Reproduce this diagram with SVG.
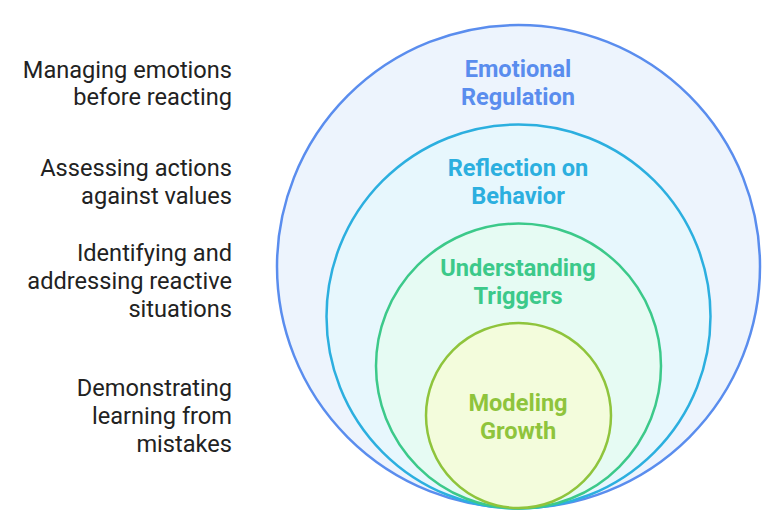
<svg xmlns="http://www.w3.org/2000/svg" width="770" height="517" viewBox="0 0 770 517">
<style>
.l{font-family:Roboto,"Liberation Sans",sans-serif;font-size:23.6px;fill:#222;text-anchor:end}
.c{font-family:Roboto,"Liberation Sans",sans-serif;font-size:23.6px;font-weight:bold;text-anchor:middle}
circle{stroke-width:2.5}
</style>
<rect width="770" height="517" fill="#fff"/>
<g id="emotional-regulation">
<circle cx="518.5" cy="266.5" r="241.5" fill="#edf4fd" stroke="#5a8dee"/>
<text class="c" fill="#5a8dee"><tspan x="518" y="77">Emotional</tspan><tspan x="518" y="105">Regulation</tspan></text>
</g>
<g id="reflection">
<circle cx="518.5" cy="316.5" r="192" fill="#e7f7fd" stroke="#2cafdf"/>
<text class="c" fill="#2cafdf"><tspan x="518" y="176">Reflection on</tspan><tspan x="518" y="204">Behavior</tspan></text>
</g>
<g id="triggers">
<circle cx="518.5" cy="366" r="142.5" fill="#e6fbf3" stroke="#3cc98a"/>
<text class="c" fill="#3cc98a"><tspan x="518" y="276">Understanding</tspan><tspan x="518" y="304">Triggers</tspan></text>
</g>
<g id="growth">
<circle cx="518.5" cy="415.5" r="92.5" fill="#f3fcdc" stroke="#8fc43c"/>
<text class="c" fill="#8fc43c"><tspan x="518" y="411">Modeling</tspan><tspan x="518" y="439">Growth</tspan></text>
</g>
<g id="labels">
<text class="l"><tspan x="232" y="78">Managing emotions</tspan><tspan x="232" y="105">before reacting</tspan></text>
<text class="l"><tspan x="232" y="176">Assessing actions</tspan><tspan x="232" y="204">against values</tspan></text>
<text class="l"><tspan x="232" y="261">Identifying and</tspan><tspan x="232" y="289">addressing reactive</tspan><tspan x="232" y="317">situations</tspan></text>
<text class="l"><tspan x="232" y="396">Demonstrating</tspan><tspan x="232" y="424">learning from</tspan><tspan x="232" y="452">mistakes</tspan></text>
</g>
<g id="connectors"/>
</svg>
